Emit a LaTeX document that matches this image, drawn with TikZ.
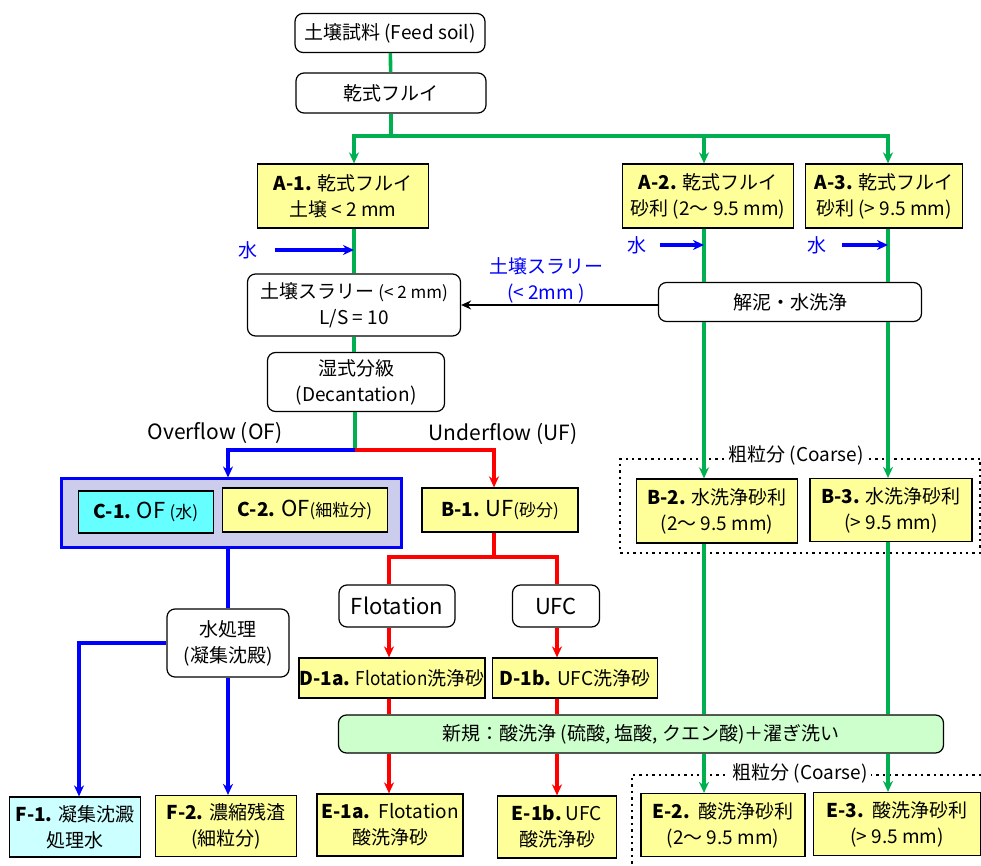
\documentclass[tikz,border=0pt]{standalone}
\usepackage{fontspec}
\setmainfont{Noto Sans CJK JP}
\usetikzlibrary{arrows.meta}
\definecolor{flowgreen}{RGB}{0,176,80}
\definecolor{boxyellow}{RGB}{255,255,153}
\definecolor{boxcyan}{RGB}{102,255,255}
\definecolor{palecyan}{RGB}{204,255,255}
\definecolor{palegreen}{RGB}{204,255,204}
\definecolor{ofgroup}{RGB}{204,204,236}
\newcommand{\boxfont}{\fontsize{9.5}{13}\selectfont}
\newcommand{\smallnote}{\fontsize{8.5}{10}\selectfont}
\newcommand{\bigword}{\fontsize{11}{13}\selectfont}
\newcommand{\narrowword}[1]{{\addfontfeature{FakeStretch=0.9}#1}}
\tikzset{
    box/.style={draw, line width=0.6pt, align=center, inner sep=0pt, font=\boxfont},
    roundbox/.style={box, fill=white, rounded corners=4pt},
    ybox/.style={box, fill=boxyellow},
    greenflow/.style={draw=flowgreen, line width=1.8pt},
    blueflow/.style={draw=blue, line width=1.8pt},
    redflow/.style={draw=red, line width=1.8pt},
    flowtip/.style={-{Stealth[length=5.5pt,width=5pt]}},
    coarse/.style={dotted, line width=1.2pt},
    flowlabel/.style={font=\fontsize{10.5}{12}\selectfont}
}

\begin{document}
\begin{tikzpicture}[x=0.5pt,y=-0.5pt]
        \useasboundingbox (0,0) rectangle (981,866);
        % Columns of the flow lines.
            \coordinate (colA) at (354,0);
            \coordinate (colB) at (704,0);
            \coordinate (colC) at (888,0);
            \coordinate (colOF) at (228,0);
            \coordinate (colUF) at (494,0);
            \coordinate (colF) at (79,0);
            \coordinate (colFl) at (389,0);
            \coordinate (colU) at (557,0);
            \coordinate (split) at (391,136);
            \coordinate (ofuf) at (355,450);
            \coordinate (ufsplit) at (494,557);
        % Dotted frames for the coarse part.
            \draw[coarse] (980,459) -- (620,459) -- (620,553) -- (980,553) -- cycle;
            \node[fill=white, font=\boxfont, inner sep=2pt] (coarseB) at (796,455) {粗粒分 (Coarse)};
            \draw[coarse] (981,775) -- (632,775) -- (632,866);
            \node[fill=white, font=\boxfont, inner sep=2pt] (coarseE) at (800,773) {粗粒分 (Coarse)};
        % Below nodes are the boxes.
            \node[roundbox, minimum width=95pt, minimum height=19.5pt] (feed) at (390,33) {土壌試料 (Feed soil)};
            \node[roundbox, minimum width=95pt, minimum height=20pt] (dry) at (391,93) {乾式フルイ};
            \node[ybox, minimum width=85.5pt, minimum height=32pt] (A1) at (343,196) {\textbf{A-1.} 乾式フルイ\\土壌 < 2 mm};
            \node[ybox, minimum width=85.5pt, minimum height=32pt] (A2) at (708,196) {\textbf{A-2.} 乾式フルイ\\砂利 (2～ 9.5 mm)};
            \node[ybox, minimum width=78.5pt, minimum height=32pt] (A3) at (884,196) {\textbf{A-3.} 乾式フルイ\\砂利 (> 9.5 mm)};
            \node[roundbox, minimum width=106.5pt, minimum height=31pt] (slurry) at (354,305) {土壌スラリー {\smallnote (< 2 mm)}\\L/S = 10};
            \node[roundbox, minimum width=131.5pt, minimum height=19.5pt] (clean) at (790,302) {解泥・水洗浄};
            \node[roundbox, minimum width=88.5pt, minimum height=29.5pt] (decant) at (356,382) {湿式分級\\(Decantation)};
            \node[draw=blue, line width=1.5pt, fill=ofgroup, minimum width=170pt, minimum height=34pt] (Cgroup) at (231,513) {};
            \node[box, fill=boxcyan, minimum width=67.5pt, minimum height=21pt] (C1) at (146,512) {\textbf{C-1.} {\bigword OF} {\smallnote (水)}};
            \node[ybox, minimum width=82.5pt, minimum height=22pt] (C2) at (305,510) {\textbf{C-2.} {\bigword OF}{\smallnote (細粒分)}};
            \node[ybox, minimum width=78pt, minimum height=22pt] (B1) at (500,510) {\textbf{B-1.} {\bigword UF}{\smallnote (砂分)}};
            \node[ybox, minimum width=80.5pt, minimum height=32pt] (B2) at (717,511) {\textbf{B-2.} 水洗浄砂利\\(2～ 9.5 mm)};
            \node[ybox, minimum width=81pt, minimum height=31.5pt] (B3) at (891,510) {\textbf{B-3.} 水洗浄砂利\\(> 9.5 mm)};
            \node[roundbox, font=\bigword, minimum width=58pt, minimum height=21pt] (flot) at (397,606) {Flotation};
            \node[roundbox, font=\bigword, minimum width=43.5pt, minimum height=21pt] (ufc) at (556,606) {UFC};
            \node[roundbox, minimum width=61pt, minimum height=34pt] (wtreat) at (228,643) {水処理\\(凝集沈殿)};
            \node[ybox, minimum width=93pt, minimum height=20pt] (D1a) at (392,678) {\textbf{D-1a.} \narrowword{Flotation}洗浄砂};
            \node[ybox, minimum width=82.5pt, minimum height=20pt] (D1b) at (575,678) {\textbf{D-1b.} UFC洗浄砂};
            \node[roundbox, fill=palegreen, minimum width=302.5pt, minimum height=19pt] (acid) at (641,734) {新規：酸洗浄 (硫酸, 塩酸, クエン酸)＋濯ぎ洗い};
            \node[ybox, minimum width=73pt, minimum height=31pt] (E1a) at (390,825) {\textbf{E-1a.}\ \ Flotation\\酸洗浄砂};
            \node[ybox, minimum width=59.5pt, minimum height=31pt] (E1b) at (557,827) {\textbf{E-1b.}\ UFC\\酸洗浄砂};
            \node[ybox, minimum width=82pt, minimum height=31.5pt] (E2) at (723,825) {\textbf{E-2.}\ \ 酸洗浄砂利\\(2～ 9.5 mm)};
            \node[ybox, minimum width=83.5pt, minimum height=31.5pt] (E3) at (897,824) {\textbf{E-3.}\ \ 酸洗浄砂利\\(> 9.5 mm)};
            \node[box, fill=palecyan, minimum width=65.5pt, minimum height=30pt] (F1) at (75,827) {\textbf{F-1.} 凝集沈澱\\処理水};
            \node[ybox, minimum width=70.5pt, minimum height=30.5pt] (F2) at (226,826) {\textbf{F-2.} 濃縮残渣\\(細粒分)};
        % Below nodes are the labels.
            \node[font=\boxfont, text=blue] (waterA) at (248,250) {水};
            \node[font=\boxfont, text=blue] (waterB) at (637,245) {水};
            \node[font=\boxfont, text=blue] (waterC) at (817,245) {水};
            \node[font=\boxfont, text=blue, align=center] (slurrylabel) at (546,280) {土壌スラリー\\(< 2mm )};
            \node[flowlabel] (oflabel) at (215,433) {Overflow (OF)};
            \node[flowlabel] (uflabel) at (503,434) {Underflow (UF)};
        % Green lines: dry sieving and the gravel columns.
            \draw[greenflow] (feed) -- (dry);
            \draw[greenflow] (dry.south) -- (split);
            \draw[greenflow, flowtip] (split) -| (colA |- A1.north);
            \draw[greenflow, flowtip] (split) -| (colB |- A2.north);
            \draw[greenflow, flowtip] (split) -| (colC |- A3.north);
            \draw[greenflow] (colA |- A1.south) -- (colA |- slurry.north);
            \draw[greenflow] (colA |- slurry.south) -- (colA |- decant.north);
            \draw[greenflow] (ofuf |- decant.south) -- (ofuf);
            \draw[greenflow] (colB |- A2.south) -- (colB |- clean.north);
            \draw[greenflow] (colC |- A3.south) -- (colC |- clean.north);
            \draw[greenflow, flowtip] (colB |- clean.south) -- (colB |- B2.north);
            \draw[greenflow, flowtip] (colC |- clean.south) -- (colC |- B3.north);
            \draw[greenflow] (colB |- B2.south) -- (colB |- acid.north);
            \draw[greenflow] (colC |- B3.south) -- (colC |- acid.north);
            \draw[greenflow, flowtip] (colB |- acid.south) -- (colB |- E2.north);
            \draw[greenflow, flowtip] (colC |- acid.south) -- (colC |- E3.north);
        % Water in, and the slurry back.
            \draw[blueflow, flowtip] ([xshift=5pt]waterA.east) -- (colA |- waterA);
            \draw[blueflow, flowtip] ([xshift=3pt]waterB.east) -- (colB |- waterB);
            \draw[blueflow, flowtip] ([xshift=4pt]waterC.east) -- (colC |- waterC);
            \draw[line width=1.2pt, -{Stealth[length=5pt,width=4.5pt]}] (clean.west |- slurry.east) -- (slurry.east);
        % Overflow side.
            \draw[blueflow, flowtip] (ofuf) -| (colOF |- Cgroup.north);
            \draw[blueflow] (colOF |- Cgroup.south) -- (colOF |- wtreat.north);
            \draw[blueflow, flowtip] (colOF |- wtreat.south) -- (colOF |- F2.north);
            \draw[blueflow, flowtip] (wtreat.west) -| (colF |- F1.north);
        % Underflow side.
            \draw[redflow, flowtip] (ofuf) -| (colUF |- B1.north);
            \draw[redflow] (colUF |- B1.south) -- (ufsplit);
            \draw[redflow] (ufsplit) -| (colFl |- flot.north);
            \draw[redflow] (ufsplit) -| (colU |- ufc.north);
            \draw[redflow, flowtip] (colFl |- flot.south) -- (colFl |- D1a.north);
            \draw[redflow, flowtip] (colU |- ufc.south) -- (colU |- D1b.north);
            \draw[redflow] (colFl |- D1a.south) -- (colFl |- acid.north);
            \draw[redflow] (colU |- D1b.south) -- (colU |- acid.north);
            \draw[redflow, flowtip] (colFl |- acid.south) -- (colFl |- E1a.north);
            \draw[redflow, flowtip] (colU |- acid.south) -- (colU |- E1b.north);
    \end{tikzpicture}
\end{document}
